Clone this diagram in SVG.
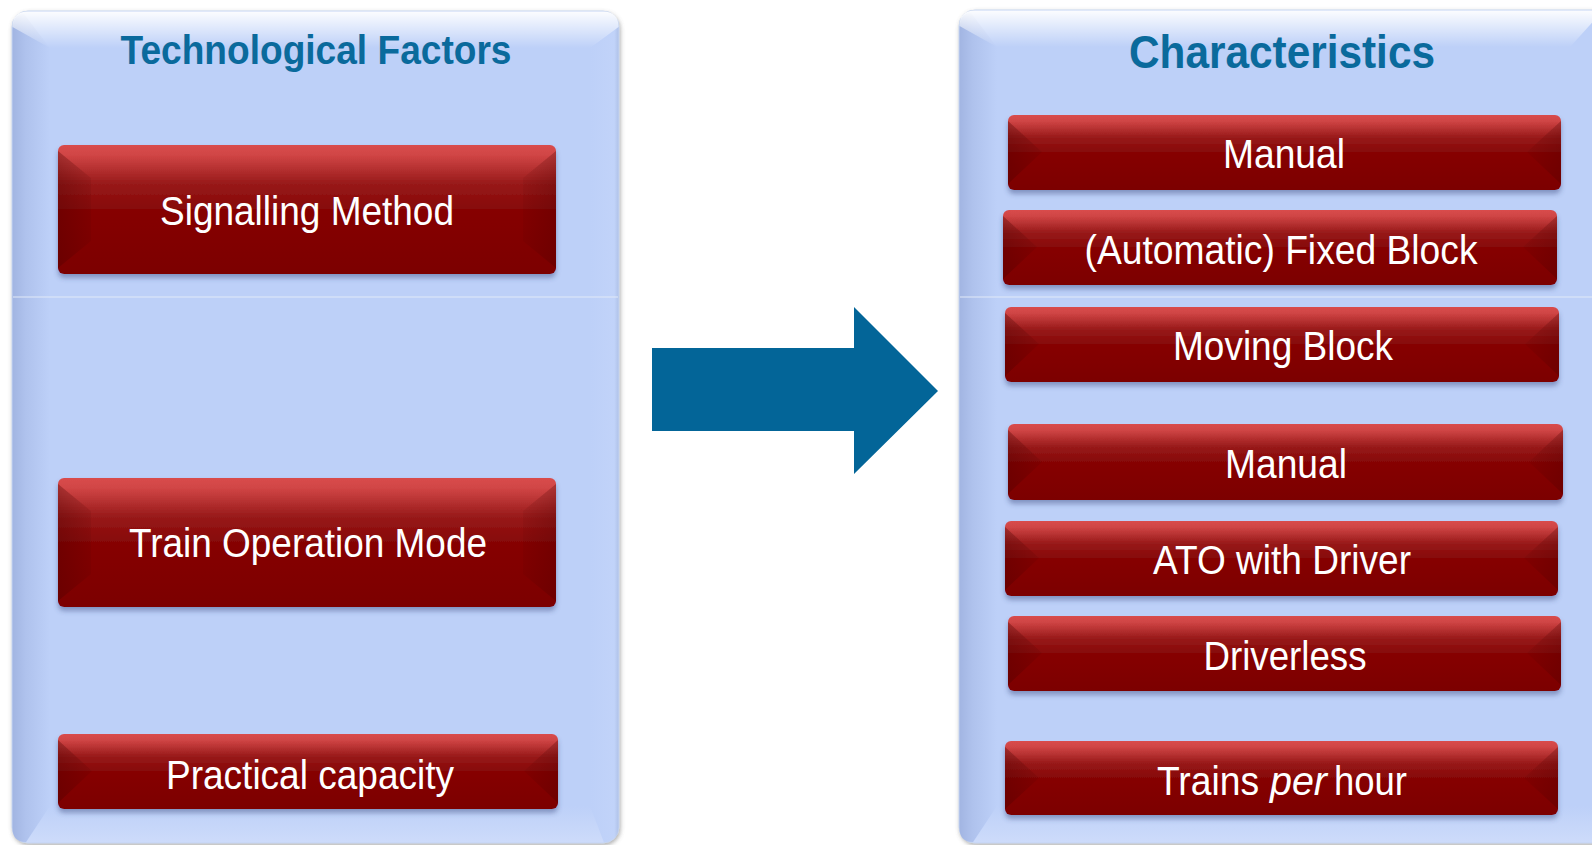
<svg xmlns="http://www.w3.org/2000/svg" width="1592" height="845" viewBox="0 0 1592 845">
<defs>
<linearGradient id="red" x1="0" y1="0" x2="0" y2="1">
<stop offset="0" stop-color="#d94c4c"/>
<stop offset="0.08" stop-color="#d04545"/>
<stop offset="0.3" stop-color="#981a1a"/>
<stop offset="0.5" stop-color="#860606"/>
<stop offset="1" stop-color="#7c0000"/>
</linearGradient>
<linearGradient id="facetL" x1="0" y1="0" x2="1" y2="0">
<stop offset="0" stop-color="#4a0000" stop-opacity="0.35"/>
<stop offset="1" stop-color="#4a0000" stop-opacity="0.1"/>
</linearGradient>
<linearGradient id="facetR" x1="1" y1="0" x2="0" y2="0">
<stop offset="0" stop-color="#4a0000" stop-opacity="0.3"/>
<stop offset="1" stop-color="#4a0000" stop-opacity="0.08"/>
</linearGradient>
<linearGradient id="pTop" x1="0" y1="0" x2="0" y2="1">
<stop offset="0" stop-color="#ffffff" stop-opacity="0.95"/>
<stop offset="1" stop-color="#ffffff" stop-opacity="0"/>
</linearGradient>
<linearGradient id="pLeft" x1="0" y1="0" x2="1" y2="0">
<stop offset="0" stop-color="#a2b5e2"/>
<stop offset="0.35" stop-color="#afc2ed"/>
<stop offset="1" stop-color="#bdd0f8"/>
</linearGradient>
<linearGradient id="pRight" x1="1" y1="0" x2="0" y2="0">
<stop offset="0" stop-color="#a8badf"/>
<stop offset="0.15" stop-color="#c4d5fa"/>
<stop offset="1" stop-color="#bdd0f8"/>
</linearGradient>
<linearGradient id="pBot" x1="0" y1="1" x2="0" y2="0">
<stop offset="0" stop-color="#d4e0fb"/>
<stop offset="1" stop-color="#bdd0f8"/>
</linearGradient>
<filter id="sh" x="-5%" y="-5%" width="110%" height="130%">
<feGaussianBlur in="SourceAlpha" stdDeviation="2.5"/>
<feOffset dx="0" dy="4" result="b"/>
<feFlood flood-color="#3a4a80" flood-opacity="0.45"/>
<feComposite in2="b" operator="in"/>
<feMerge><feMergeNode/><feMergeNode in="SourceGraphic"/></feMerge>
</filter>
<filter id="psh" x="-3%" y="-3%" width="106%" height="106%">
<feGaussianBlur in="SourceAlpha" stdDeviation="2"/>
<feOffset dx="1" dy="2" result="b"/>
<feFlood flood-color="#606060" flood-opacity="0.5"/>
<feComposite in2="b" operator="in"/>
<feMerge><feMergeNode/><feMergeNode in="SourceGraphic"/></feMerge>
</filter>
</defs>
<style>
.panel{fill:#bdd0f8;stroke:#c9d6ee;stroke-width:1}
.btn{fill:url(#red)}
.fl{fill:url(#facetL)}
.fr{fill:url(#facetR)}
.title{font-family:"Liberation Sans Narrow","Liberation Sans",Arial,sans-serif;font-weight:bold;fill:#0a6a9c;text-anchor:middle}
.lbl{font-family:"Liberation Sans Narrow","Liberation Sans",Arial,sans-serif;font-size:40px;fill:#ffffff;text-anchor:middle}
.lbs{font-family:"Liberation Sans Narrow","Liberation Sans",Arial,sans-serif;font-size:40px;fill:#ffffff}
.seam{stroke:#e2e9f8;stroke-width:1.2}
</style>
<rect width="1592" height="845" fill="#ffffff"/>

<g id="panel-left">
<rect class="panel" x="12" y="11" width="607" height="832" rx="16" filter="url(#psh)"/>
<path d="M12.5,30 Q12.5,14 24,14 L50,48 L50,806 L26,842 Q12.5,842 12.5,828 Z" fill="url(#pLeft)"/>
<path d="M618.5,27 L618.5,827 Q618.5,842 604,842 L590,808 L590,46 Z" fill="url(#pRight)" opacity="0.6"/>
<path d="M26,842.5 L50,806 L590,806 L604,842.5 Z" fill="url(#pBot)" opacity="0.7"/>
<path d="M12.5,27 Q12.5,11.5 28,11.5 L603,11.5 Q618.5,11.5 618.5,27 L590,48 L50,48 Z" fill="url(#pTop)"/>
<line class="seam" x1="13" y1="297" x2="618" y2="297"/>
<text class="title" x="316" y="64" font-size="40" textLength="391" lengthAdjust="spacingAndGlyphs">Technological Factors</text>
</g>

<g id="panel-right">
<rect class="panel" x="959" y="10" width="660" height="833" rx="16" filter="url(#psh)"/>
<path d="M959.5,29 Q959.5,13 971,13 L997,47 L997,806 L973,842 Q959.5,842 959.5,828 Z" fill="url(#pLeft)"/>
<path d="M973,842.5 L997,806 L1592,806 L1592,842.5 Z" fill="url(#pBot)" opacity="0.7"/>
<path d="M959.5,26 Q959.5,10.5 975,10.5 L1603,10.5 L1570,47 L997,47 Z" fill="url(#pTop)"/>
<line class="seam" x1="960" y1="297" x2="1592" y2="297"/>
<text class="title" x="1282" y="68" font-size="47" textLength="306" lengthAdjust="spacingAndGlyphs">Characteristics</text>
</g>

<g id="connectors">
<polygon points="652,348 854,348 854,307 938,391 854,474 854,431 652,431" fill="#036598"/>
</g>

<g id="n-signalling">
<rect class="btn" x="58" y="145" width="498" height="129" rx="6" filter="url(#sh)"/>
<polygon class="fl" points="58,151 91,178 91,241 58,268"/>
<polygon class="fr" points="556,151 523,178 523,241 556,268"/>
<text class="lbl" x="307" y="225" textLength="294" lengthAdjust="spacingAndGlyphs">Signalling Method</text>
</g>

<g id="n-trainop">
<rect class="btn" x="58" y="478" width="498" height="129" rx="6" filter="url(#sh)"/>
<polygon class="fl" points="58,484 91,511 91,574 58,601"/>
<polygon class="fr" points="556,484 523,511 523,574 556,601"/>
<text class="lbl" x="308" y="557" textLength="358" lengthAdjust="spacingAndGlyphs">Train Operation Mode</text>
</g>

<g id="n-practical">
<rect class="btn" x="58" y="734" width="500" height="75" rx="6" filter="url(#sh)"/>
<polygon class="fl" points="58,740 92,771 58,803"/>
<polygon class="fr" points="558,740 524,771 558,803"/>
<text class="lbl" x="310" y="789" textLength="288" lengthAdjust="spacingAndGlyphs">Practical capacity</text>
</g>

<g id="n-manual1">
<rect class="btn" x="1008" y="115" width="553" height="75" rx="6" filter="url(#sh)"/>
<polygon class="fl" points="1008,121 1042,152 1008,184"/>
<polygon class="fr" points="1561,121 1527,152 1561,184"/>
<text class="lbl" x="1284" y="168" textLength="122" lengthAdjust="spacingAndGlyphs">Manual</text>
</g>

<g id="n-fixed">
<rect class="btn" x="1003" y="210" width="554" height="75" rx="6" filter="url(#sh)"/>
<polygon class="fl" points="1003,216 1037,247 1003,279"/>
<polygon class="fr" points="1557,216 1523,247 1557,279"/>
<text class="lbl" x="1281" y="264" textLength="393" lengthAdjust="spacingAndGlyphs">(Automatic) Fixed Block</text>
</g>

<g id="n-moving">
<rect class="btn" x="1005" y="307" width="554" height="75" rx="6" filter="url(#sh)"/>
<polygon class="fl" points="1005,313 1039,344 1005,376"/>
<polygon class="fr" points="1559,313 1525,344 1559,376"/>
<text class="lbl" x="1283" y="360" textLength="220" lengthAdjust="spacingAndGlyphs">Moving Block</text>
</g>

<g id="n-manual2">
<rect class="btn" x="1008" y="424" width="555" height="76" rx="6" filter="url(#sh)"/>
<polygon class="fl" points="1008,430 1042,462 1008,494"/>
<polygon class="fr" points="1563,430 1529,462 1563,494"/>
<text class="lbl" x="1286" y="478" textLength="122" lengthAdjust="spacingAndGlyphs">Manual</text>
</g>

<g id="n-ato">
<rect class="btn" x="1005" y="521" width="553" height="75" rx="6" filter="url(#sh)"/>
<polygon class="fl" points="1005,527 1039,558 1005,590"/>
<polygon class="fr" points="1558,527 1524,558 1558,590"/>
<text class="lbl" x="1282" y="574" textLength="258" lengthAdjust="spacingAndGlyphs">ATO with Driver</text>
</g>

<g id="n-driverless">
<rect class="btn" x="1008" y="616" width="553" height="75" rx="6" filter="url(#sh)"/>
<polygon class="fl" points="1008,622 1042,653 1008,685"/>
<polygon class="fr" points="1561,622 1527,653 1561,685"/>
<text class="lbl" x="1285" y="670" textLength="163" lengthAdjust="spacingAndGlyphs">Driverless</text>
</g>

<g id="n-tph">
<rect class="btn" x="1005" y="741" width="553" height="74" rx="6" filter="url(#sh)"/>
<polygon class="fl" points="1005,747 1039,778 1005,809"/>
<polygon class="fr" points="1558,747 1524,778 1558,809"/>
<text class="lbs" x="1157" y="795" textLength="102" lengthAdjust="spacingAndGlyphs">Trains</text>
<text class="lbs" x="1270" y="795" font-style="italic" textLength="57" lengthAdjust="spacingAndGlyphs">per</text>
<text class="lbs" x="1334" y="795" textLength="73" lengthAdjust="spacingAndGlyphs">hour</text>
</g>
</svg>
